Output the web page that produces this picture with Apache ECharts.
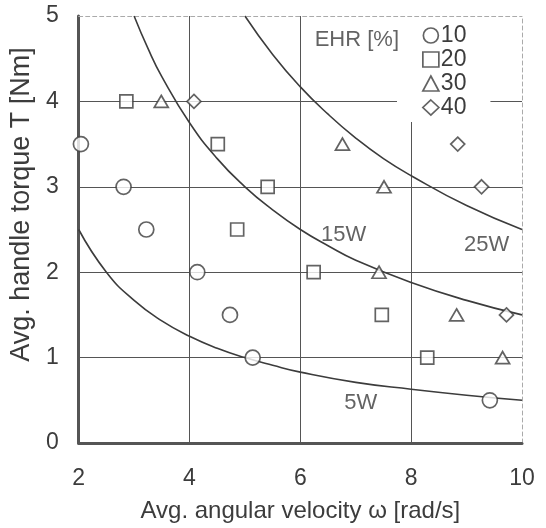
<!DOCTYPE html>
<html>
<head>
<meta charset="utf-8">
<script src="https://cdn.jsdelivr.net/npm/echarts@6/dist/echarts.min.js"></script>
<style>html,body{margin:0;padding:0;background:#fff}#c{width:546px;height:528px}</style>
</head>
<body>
<div id="c"></div>
<script>
// EHR groups (legend)
const ehrNames = ['10', '20', '30', '40'];
// [omega (rad/s), torque (Nm)]
const ehr10 = [[2.04, 3.5], [2.81, 3.0], [3.22, 2.5], [4.14, 2.0], [4.73, 1.5], [5.14, 1.0], [9.42, 0.5]];
const ehr20 = [[2.86, 4.0], [4.51, 3.5], [5.41, 3.0], [4.86, 2.5], [6.24, 2.0], [7.47, 1.5], [8.29, 1.0]];
const ehr30 = [[3.49, 4.0], [6.76, 3.5], [7.51, 3.0], [7.42, 2.0], [8.82, 1.5], [9.65, 1.0]];
const ehr40 = [[4.08, 4.0], [8.84, 3.5], [9.27, 3.0], [9.72, 1.5]];
// iso-power curves
const curve5W = [[2, 2.5], [2.5, 2.0], [3, 1.67], [3.5, 1.43], [4, 1.25], [4.5, 1.11], [5, 1.0], [5.5, 0.91], [6, 0.83], [7, 0.71], [8, 0.63], [9, 0.56], [10, 0.5]];
const curve15W = [[3, 5.0], [3.25, 4.62], [3.5, 4.29], [4, 3.75], [4.5, 3.33], [5, 3.0], [5.5, 2.73], [6, 2.5], [6.5, 2.31], [7, 2.14], [8, 1.88], [9, 1.67], [10, 1.5]];
const curve25W = [[5, 5.0], [5.5, 4.55], [6, 4.17], [6.5, 3.85], [7, 3.57], [7.5, 3.33], [8, 3.13], [9, 2.78], [10, 2.5]];
// text labels [x, y, text]
const curveLabels = [[6.78, 2.44, '15W'], [9.36, 2.32, '25W'], [7.09, 0.47, '5W']];
const legendTitle = [[7.02, 4.72, 'EHR [%]']];
const xTicks = [2, 4, 6, 8, 10];
const yTicks = [0, 1, 2, 3, 4, 5];

const ink = '#3c3c3c';
const font = 'Liberation Sans, Arial, sans-serif';
const markStyle = { color: '#fff', borderColor: ink, borderWidth: 1.7 };

function scatter(name, data, symbol, size) {
  return { name, type: 'scatter', data, symbol, symbolSize: size, itemStyle: markStyle, z: 3 };
}
function curve(data) {
  return { type: 'line', data, smooth: true, showSymbol: false, symbol: 'none',
    lineStyle: { color: ink, width: 1.6 }, z: 2, silent: true };
}
function textSeries(arr) {
  return { type: 'scatter', symbolSize: 0, z: 10, silent: true,
    data: arr.map(d => ({ value: [d[0], d[1]], label: { formatter: d[2] } })),
    label: { show: true, position: 'inside', color: ink, fontSize: 22, fontFamily: font } };
}

const chart = echarts.init(document.getElementById('c'), null, { renderer: 'canvas' });
chart.setOption({
  backgroundColor: '#fff',
  animation: false,
  grid: { left: 77, right: 24, top: 16, bottom: 84 },
  legend: {
    data: ehrNames, orient: 'vertical', left: 397, top: 17,
    padding: [7, 24, 3, 25], itemGap: 1, itemWidth: 16, itemHeight: 15,
    backgroundColor: '#fff',
    textStyle: { color: ink, fontSize: 23, fontFamily: font, padding: [0, 0, 0, -3] },
    itemStyle: { borderWidth: 1.7, borderColor: ink, color: '#fff' },
    selectedMode: false
  },
  xAxis: [{
    type: 'value', min: xTicks[0], max: xTicks[xTicks.length - 1], interval: 2,
    name: 'Avg. angular velocity ω [rad/s]', nameLocation: 'middle', nameGap: 56,
    nameTextStyle: { color: ink, fontSize: 24, fontFamily: font },
    axisLine: { show: true, onZero: false, lineStyle: { color: '#555', width: 3 } },
    axisTick: { show: false },
    axisLabel: { color: ink, fontSize: 23, fontFamily: font, margin: 24 },
    splitLine: { show: true, lineStyle: { color: ['#555', '#555', '#555', '#555', 'rgba(0,0,0,0)'], width: 1 } }
  }, {
    type: 'value', position: 'top', min: xTicks[0], max: xTicks[xTicks.length - 1], interval: 2,
    axisLine: { show: true, onZero: false, lineStyle: { color: '#aaa', width: 1, type: [4, 3] } },
    axisTick: { show: false }, axisLabel: { show: false }, splitLine: { show: false }
  }],
  yAxis: [{
    type: 'value', min: yTicks[0], max: yTicks[yTicks.length - 1], interval: 1,
    name: 'Avg. handle torque T [Nm]', nameLocation: 'middle', nameGap: 41,
    nameTextStyle: { color: ink, fontSize: 27, fontFamily: font, padding: [0, 0, 0, 50] },
    axisLine: { show: true, onZero: false, lineStyle: { color: '#555', width: 3 } },
    axisTick: { show: false },
    axisLabel: { color: ink, fontSize: 23, fontFamily: font, margin: 20 },
    splitLine: { show: true, lineStyle: { color: ['#555', '#555', '#555', '#555', '#555', 'rgba(0,0,0,0)'], width: 1 } }
  }, {
    type: 'value', position: 'right', min: yTicks[0], max: yTicks[yTicks.length - 1], interval: 1,
    axisLine: { show: true, onZero: false, lineStyle: { color: '#aaa', width: 1, type: [4, 3] } },
    axisTick: { show: false }, axisLabel: { show: false }, splitLine: { show: false }
  }],
  series: [
    curve(curve5W), curve(curve15W), curve(curve25W),
    scatter(ehrNames[0], ehr10, 'circle', 15),
    scatter(ehrNames[1], ehr20, 'rect', 13),
    scatter(ehrNames[2], ehr30, 'triangle', [14, 12]),
    scatter(ehrNames[3], ehr40, 'diamond', 14),
    textSeries(curveLabels),
    textSeries(legendTitle)
  ]
});
</script>
</body>
</html>
